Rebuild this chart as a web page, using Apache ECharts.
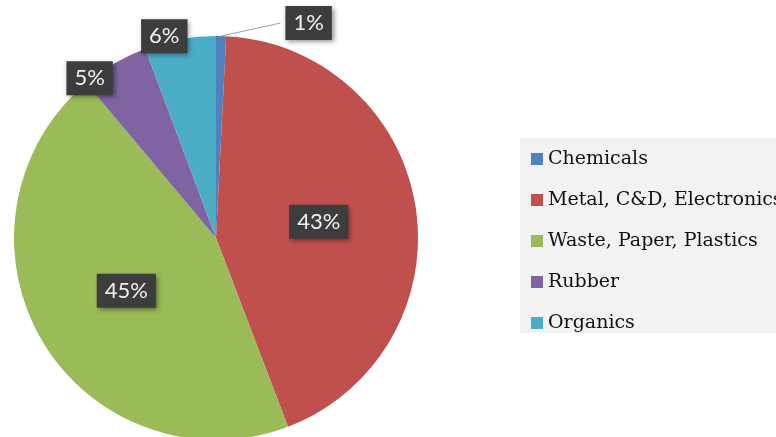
<!DOCTYPE html>
<html>
<head>
<meta charset="utf-8">
<script src="https://cdn.jsdelivr.net/npm/echarts@6/dist/echarts.min.js"></script>
<style>
  html, body { margin: 0; padding: 0; background: #ffffff; }
  #chart { width: 776px; height: 437px; }
</style>
</head>
<body>
<div id="chart"></div>
<script>
// Data
const categories = ['Chemicals', 'Metal, C&D, Electronics', 'Waste, Paper, Plastics', 'Rubber', 'Organics'];
const values = [0.8, 43.4, 44.7, 5.4, 5.7];
const colors = ['#4F81BD', '#C0504D', '#9BBB59', '#8064A2', '#4BACC6'];

// Per-slice label placement (style only)
const labelStyles = [
  { position: 'outside', distanceToLabelLine: 5, line: { show: true, length: 13, length2: 59, minTurnAngle: 168 } },
  { position: 'inside' },
  { position: 'inside' },
  { position: 'outside', distanceToLabelLine: 10, line: { show: false, length: -17, length2: 0 } },
  { position: 'outside', distanceToLabelLine: -8, line: { show: false, length: 3, length2: 0 } }
];

const chart = echarts.init(document.getElementById('chart'), null, { renderer: 'canvas' });

const seriesData = categories.map((name, i) => {
  const ls = labelStyles[i];
  const item = {
    name: name,
    value: values[i],
    itemStyle: { color: colors[i] },
    label: { position: ls.position }
  };
  if (ls.position === 'outside') {
    item.label.distanceToLabelLine = ls.distanceToLabelLine;
    item.labelLine = ls.line;
  }
  return item;
});

chart.setOption({
  backgroundColor: '#ffffff',
  animation: false,
  legend: {
    orient: 'vertical',
    left: 520,
    top: 138,
    padding: [11, 60, 0, 11],
    backgroundColor: '#f2f2f2',
    icon: 'rect',
    itemWidth: 12,
    itemHeight: 12,
    itemGap: 21,
    selectedMode: false,
    data: categories,
    textStyle: {
      fontFamily: 'DejaVu Serif',
      fontSize: 19,
      lineHeight: 20,
      color: '#111111'
    }
  },
  series: [{
    type: 'pie',
    center: [216, 238],
    radius: 202,
    startAngle: 90,
    clockwise: true,
    avoidLabelOverlap: false,
    silent: true,
    emphasis: { disabled: true },
    itemStyle: { borderWidth: 0 },
    label: {
      show: true,
      formatter: function (p) { return Math.round(p.percent) + '%'; },
      fontFamily: 'Lato',
      fontSize: 22,
      lineHeight: 22,
      color: '#f2f2f2',
      backgroundColor: '#3d3d3d',
      padding: [6, 8, 6, 8],
      shadowBlur: 5,
      shadowOffsetX: 2,
      shadowOffsetY: 2,
      shadowColor: 'rgba(0,0,0,0.45)'
    },
    labelLine: {
      lineStyle: { color: '#a0a0a0', width: 1 }
    },
    data: seriesData
  }]
});
</script>
</body>
</html>
